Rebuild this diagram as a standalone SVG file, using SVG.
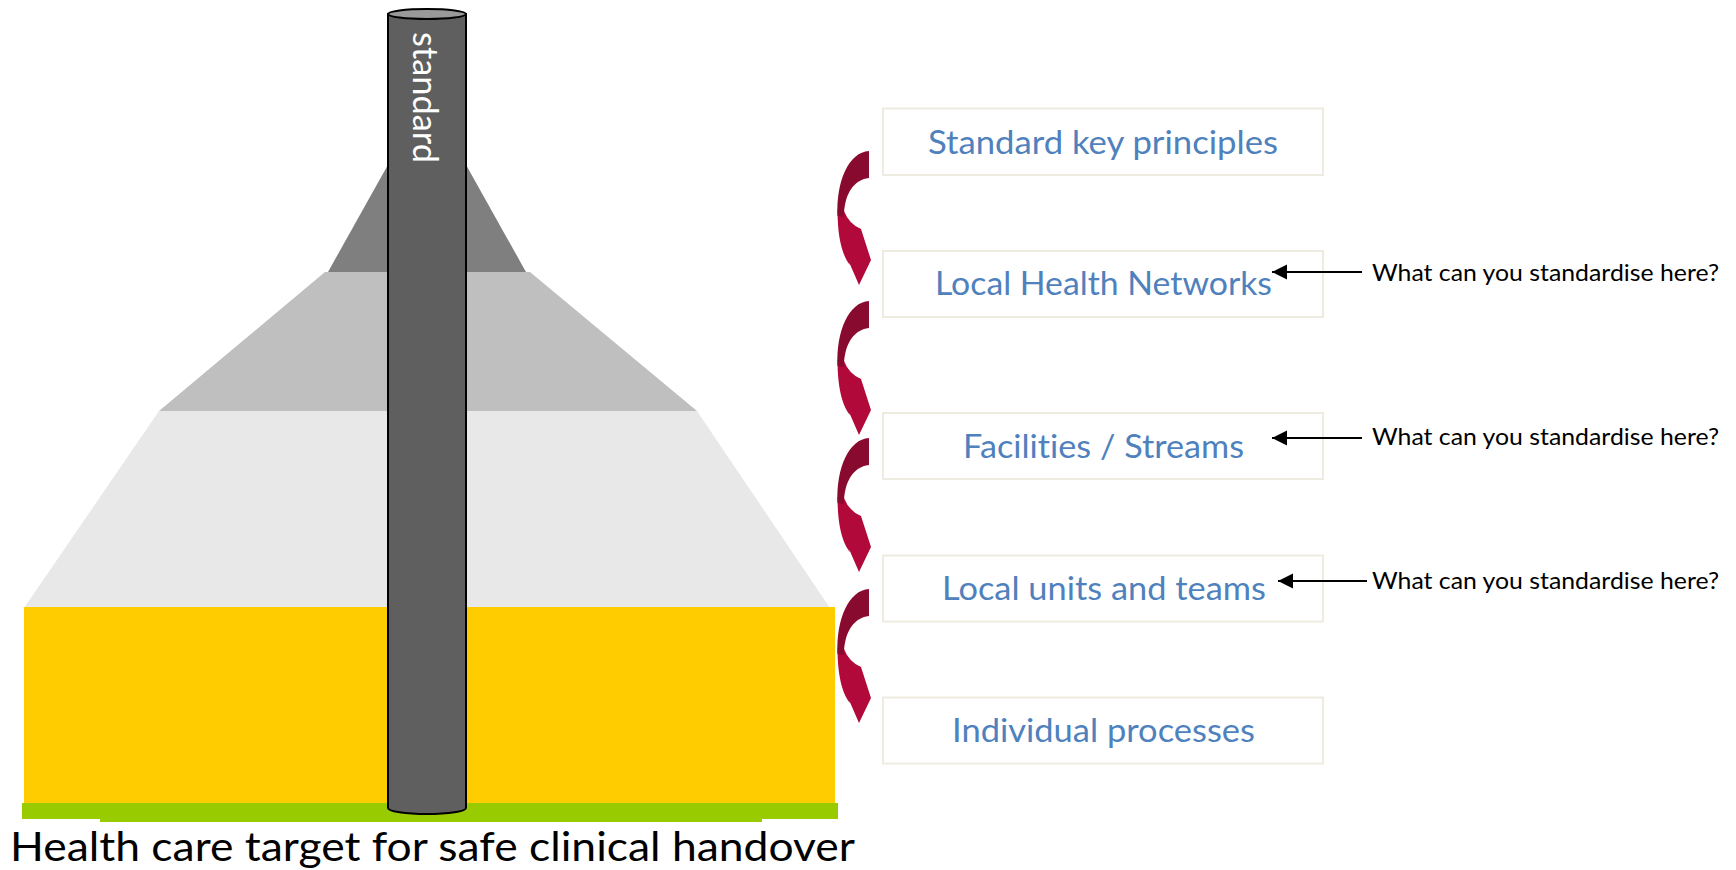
<svg xmlns="http://www.w3.org/2000/svg" width="1736" height="870" viewBox="0 0 1736 870">
<style>
text{font-variant-ligatures:none}
.box{fill:#fff;stroke:#EEECE1;stroke-width:2}
.lbl{font-family:Lato,"Open Sans",sans-serif;font-size:33.5px;fill:#4F81BD;text-anchor:middle}
.q{font-family:Lato,"Open Sans",sans-serif;font-size:24px;fill:#000}
.ptr{stroke:#000;stroke-width:2.2;fill:none}
.dk{fill:#880B2F}
.lt{fill:#B0093A}
</style>
<defs>
<marker id="ah" markerUnits="userSpaceOnUse" markerWidth="16" markerHeight="16" viewBox="0 0 16 16" refX="15" refY="8" orient="auto">
<path d="M0,0.5 L15,8 L0,15.5 Z" fill="#000"/>
</marker>
<g id="curv">
<path class="lt" d="M837.5,210 C837.5,242 844,258 850,265 L849,262 L859,285 L871,260 L861,229 Q849,224 844,211 Z"/>
<path class="dk" d="M869,151 C849,152 836,181 837.5,216 L844,217 C844,195 853,180 869,178 Z"/>
</g>
</defs>

<g id="pyramid">
<polygon points="427,95 526,272 328,272" fill="#7F7F7F"/>
<polygon points="325,272 530,272 697,411 159,411" fill="#BFBFBF"/>
<polygon points="159,411 697,411 830,608 24,608" fill="#E8E8E8"/>
<rect x="24" y="607" width="811" height="196" fill="#FFCC00"/>
<rect x="22" y="803" width="816" height="16" fill="#99CC00"/>
<rect x="100" y="818" width="662" height="4" fill="#99CC00"/>
</g>

<g id="column">
<path d="M388,14 L388,808 A39,6 0 0 0 466,808 L466,14 Z" fill="#5F5F5F" stroke="#000" stroke-width="2"/>
<ellipse cx="427" cy="14" rx="39" ry="5" fill="#999999" stroke="#000" stroke-width="2"/>
<text transform="translate(413,32) rotate(90)" font-family="Lato,'Open Sans',sans-serif" font-size="34" fill="#fff" textLength="131" lengthAdjust="spacingAndGlyphs">standard</text>
</g>

<text id="title" x="10" y="861" font-family="Lato,'Open Sans',sans-serif" font-size="40.5" fill="#000" textLength="845" lengthAdjust="spacingAndGlyphs">Health care target for safe clinical handover</text>

<g id="n1"><rect class="box" x="883" y="108.5" width="440" height="66.5"/><text class="lbl" x="1103" y="154" textLength="350" lengthAdjust="spacingAndGlyphs">Standard key principles</text></g>
<g id="n2"><rect class="box" x="883" y="251" width="440" height="66"/><text class="lbl" x="1103.5" y="295" textLength="337" lengthAdjust="spacingAndGlyphs">Local Health Networks</text></g>
<g id="n3"><rect class="box" x="883" y="413" width="440" height="66"/><text class="lbl" x="1103.5" y="458" textLength="281" lengthAdjust="spacingAndGlyphs">Facilities / Streams</text></g>
<g id="n4"><rect class="box" x="883" y="555.5" width="440" height="66"/><text class="lbl" x="1104" y="600" textLength="324" lengthAdjust="spacingAndGlyphs">Local units and teams</text></g>
<g id="n5"><rect class="box" x="883" y="697.5" width="440" height="66"/><text class="lbl" x="1103.5" y="742" textLength="303" lengthAdjust="spacingAndGlyphs">Individual processes</text></g>

<g id="q1"><text class="q" x="1372" y="281" textLength="347" lengthAdjust="spacingAndGlyphs">What can you standardise here?</text></g>
<g id="q2"><text class="q" x="1372" y="445" textLength="347" lengthAdjust="spacingAndGlyphs">What can you standardise here?</text></g>
<g id="q3"><text class="q" x="1372" y="589" textLength="347" lengthAdjust="spacingAndGlyphs">What can you standardise here?</text></g>

<g id="connectors">
<use href="#curv"/>
<use href="#curv" transform="translate(0,150)"/>
<use href="#curv" transform="translate(0,287)"/>
<use href="#curv" transform="translate(0,438)"/>
<line class="ptr" x1="1362" y1="272" x2="1272" y2="272" marker-end="url(#ah)"/>
<line class="ptr" x1="1362" y1="438" x2="1272" y2="438" marker-end="url(#ah)"/>
<line class="ptr" x1="1367" y1="581" x2="1278" y2="581" marker-end="url(#ah)"/>
</g>
</svg>
